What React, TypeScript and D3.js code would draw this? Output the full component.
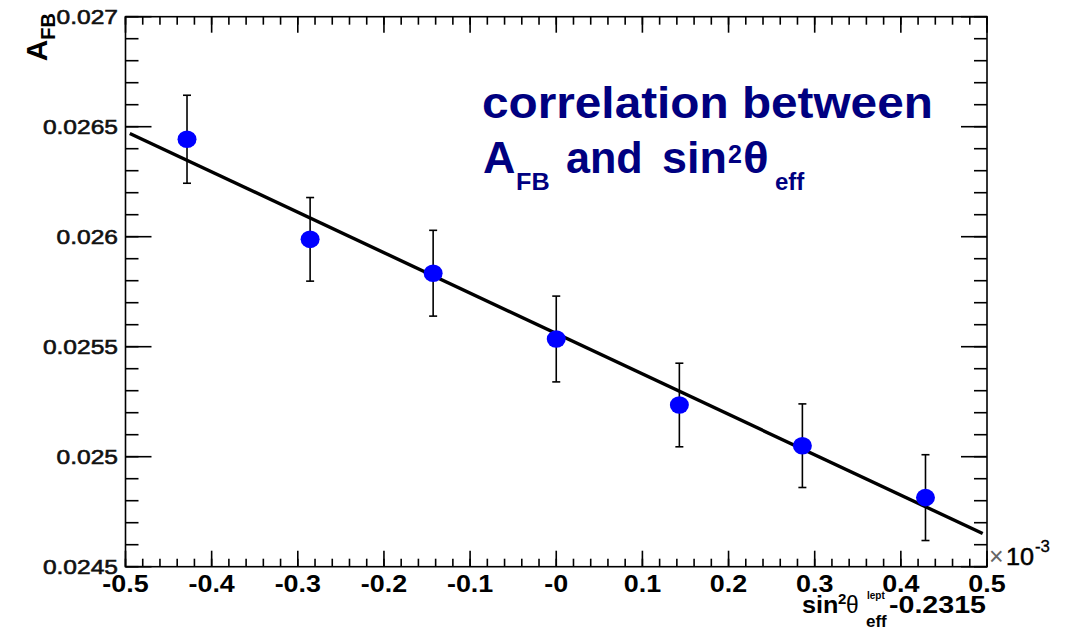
import React from "react";
import * as d3 from "d3";

// ---- data ----
const xValues = [-0.4286, -0.2857, -0.1429, 0, 0.1429, 0.2857, 0.4286];
const afbValues = [0.026443, 0.025988, 0.025834, 0.025535, 0.025235, 0.02505, 0.024814];
const afbErrors = [0.0002, 0.00019, 0.000195, 0.000195, 0.00019, 0.00019, 0.000195];
const fitIntercept = 0.02556;
const fitSlope = -0.001837;
const fitRange = [-0.495, 0.495];
const xTickLabels = ["-0.5", "-0.4", "-0.3", "-0.2", "-0.1", "-0", "0.1", "0.2", "0.3", "0.4", "0.5"];
const yTickLabels = ["0.0245", "0.025", "0.0255", "0.026", "0.0265", "0.027"];

const W = 1068;
const H = 631;
const FONT = "'Liberation Sans', Arial, Helvetica, sans-serif";
const NAVY = "#000080";

type TP = {
  x: number;
  y: number;
  size: number;
  weight?: string | number;
  anchor?: "start" | "middle" | "end";
  fill?: string;
  sx?: number;
  children: React.ReactNode;
  central?: boolean;
  fatten?: number;
};
const T = ({ x, y, size, weight = "normal", anchor = "start", fill = "#000", sx = 1.15, children, central, fatten }: TP) => (
  <text
    transform={`translate(${x},${y}) scale(${sx},1)`}
    fontSize={size}
    fontWeight={weight}
    textAnchor={anchor}
    fill={fill}
    stroke={fatten ? fill : undefined}
    strokeWidth={fatten}
    fontFamily={FONT}
    dy={central ? "0.36em" : undefined}
  >
    {children}
  </text>
);

export default function App() {
  const left = 125.5, right = 987, top = 16.7, bottom = 566.7;
  const x = d3.scaleLinear().domain([-0.5, 0.5]).range([left, right]);
  const y = d3.scaleLinear().domain([0.0245, 0.027]).range([bottom, top]);

  const xMajor = d3.range(0, 11).map((i) => -0.5 + i * 0.1);
  const xMinor = d3.range(0, 51).map((i) => -0.5 + i * 0.02);
  const yMajor = d3.range(0, 6).map((i) => 0.0245 + i * 0.0005);
  const yMinor = d3.range(0, 26).map((i) => 0.0245 + i * 0.0001);

  const fitLine = d3
    .line<number>()
    .x((d) => x(d))
    .y((d) => y(fitIntercept + fitSlope * d));

  const sw = 1.6;
  return (
    <svg width={W} height={H} style={{ position: "absolute", left: 0, top: 0, background: "#fff" }}>
      <rect x={0} y={0} width={W} height={H} fill="#fff" />
      {/* frame */}
      <rect x={left} y={top} width={right - left} height={bottom - top} fill="none" stroke="#000" strokeWidth={sw} />
      {/* x ticks bottom & top */}
      {xMinor.map((v, i) => (
        <g key={"xm" + i}>
          <line x1={x(v)} x2={x(v)} y1={bottom} y2={bottom - 8} stroke="#000" strokeWidth={sw} />
          <line x1={x(v)} x2={x(v)} y1={top} y2={top + 8} stroke="#000" strokeWidth={sw} />
        </g>
      ))}
      {xMajor.map((v, i) => (
        <g key={"xM" + i}>
          <line x1={x(v)} x2={x(v)} y1={bottom} y2={bottom - 16} stroke="#000" strokeWidth={sw} />
          <line x1={x(v)} x2={x(v)} y1={top} y2={top + 16} stroke="#000" strokeWidth={sw} />
          <T x={x(v)} y={592} size={24} weight="bold" anchor="middle" sx={1.12}>
            {xTickLabels[i]}
          </T>
        </g>
      ))}
      {/* y ticks left & right */}
      {yMinor.map((v, i) => (
        <g key={"ym" + i}>
          <line x1={left} x2={left + 13} y1={y(v)} y2={y(v)} stroke="#000" strokeWidth={sw} />
          <line x1={right} x2={right - 13} y1={y(v)} y2={y(v)} stroke="#000" strokeWidth={sw} />
        </g>
      ))}
      {yMajor.map((v, i) => (
        <g key={"yM" + i}>
          <line x1={left} x2={left + 26} y1={y(v)} y2={y(v)} stroke="#000" strokeWidth={sw} />
          <line x1={right} x2={right - 26} y1={y(v)} y2={y(v)} stroke="#000" strokeWidth={sw} />
          <T x={118} y={y(v)} size={21} anchor="end" central sx={1.17} fatten={0.6} fill="#111">
            {yTickLabels[i]}
          </T>
        </g>
      ))}

      {/* fit line */}
      <path d={fitLine([fitRange[0], fitRange[1]]) || ""} fill="none" stroke="#000" strokeWidth={3.4} />

      {/* error bars */}
      {xValues.map((xv, i) => {
        const cx = x(xv);
        const y1 = y(afbValues[i] + afbErrors[i]);
        const y2 = y(afbValues[i] - afbErrors[i]);
        return (
          <g key={"e" + i} stroke="#000" strokeWidth={1.6}>
            <line x1={cx} x2={cx} y1={y1} y2={y2} />
            <line x1={cx - 4} x2={cx + 4} y1={y1} y2={y1} />
            <line x1={cx - 4} x2={cx + 4} y1={y2} y2={y2} />
          </g>
        );
      })}
      {/* markers */}
      {xValues.map((xv, i) => (
        <ellipse key={"p" + i} cx={x(xv)} cy={y(afbValues[i])} rx={9.5} ry={8.8} fill="#0000ff" />
      ))}

      {/* annotation */}
      <T x={482} y={118} size={44} weight="bold" fill={NAVY} sx={1.085}>
        correlation between
      </T>
      <T x={483} y={173} size={44} weight="bold" fill={NAVY} sx={1.02}>A</T>
      <T x={516} y={190} size={24} weight="bold" fill={NAVY} sx={1.05}>FB</T>
      <T x={566} y={173} size={44} weight="bold" fill={NAVY} sx={0.98}>and</T>
      <T x={662} y={173} size={44} weight="bold" fill={NAVY} sx={1.02}>sin</T>
      <T x={728} y={163} size={25} weight="bold" fill={NAVY} sx={1.0}>2</T>
      <T x={743} y={173} size={44} weight="bold" fill={NAVY} sx={1.08}>θ</T>
      <T x={775} y={190} size={24} weight="bold" fill={NAVY} sx={1.0}>eff</T>

      {/* y axis title */}
      <text transform="translate(47,13) rotate(-90)" textAnchor="end" fontFamily={FONT} fontWeight="bold" fill="#000">
        <tspan fontSize={30}>A</tspan>
        <tspan fontSize={20} dy={8}>FB</tspan>
      </text>

      {/* x axis title */}
      <T x={802} y={613} size={24} weight="bold" sx={1.05}>sin</T>
      <T x={838} y={604} size={15} weight="bold" sx={1.0}>2</T>
      <T x={846} y={613} size={24} sx={0.95}>θ</T>
      <T x={866} y={627} size={17} weight="bold" sx={1.0}>eff</T>
      <T x={867} y={599} size={10} weight="bold" sx={1.0}>lept</T>
      <text x={889} y={613} fontSize={24} fontWeight="bold" fontFamily={FONT} textLength={97} lengthAdjust="spacingAndGlyphs">
        -0.2315
      </text>

      {/* exponent */}
      <T x={989} y={565} size={25} fill="#666" sx={1.0}>×</T>
      <T x={1006} y={565} size={24} sx={1.05} fatten={0.5}>10</T>
      <T x={1035} y={552} size={16} sx={1.05} fatten={0.3}>-3</T>
    </svg>
  );
}
